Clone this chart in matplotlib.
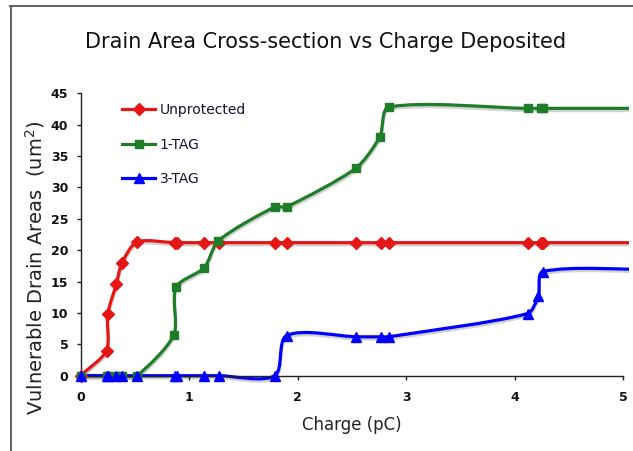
import matplotlib
matplotlib.use("Agg")
import matplotlib.pyplot as plt
import numpy as np
from matplotlib.path import Path
from matplotlib.patches import PathPatch, Rectangle
from matplotlib.lines import Line2D
import matplotlib.patheffects as pe

# ---- data ----
x_unprot = [0, 0.24, 0.25, 0.33, 0.38, 0.52, 0.87, 0.89, 1.14, 1.28, 1.79, 1.90, 2.54, 2.77, 2.84, 4.12, 4.24, 4.26, 5.3]
y_unprot = [0, 4.0, 9.8, 14.6, 17.9, 21.3, 21.2, 21.2, 21.2, 21.2, 21.2, 21.2, 21.2, 21.2, 21.2, 21.2, 21.2, 21.2, 21.2]

x_1tag = [0, 0.24, 0.25, 0.33, 0.38, 0.52, 0.86, 0.88, 1.14, 1.27, 1.79, 1.90, 2.54, 2.76, 2.84, 4.12, 4.24, 4.26, 5.3]
y_1tag = [0, 0, 0, 0, 0, 0, 6.5, 14.1, 17.2, 21.5, 26.9, 26.9, 33.1, 38.1, 42.8, 42.6, 42.6, 42.6, 42.6]

x_3tag = [0, 0.24, 0.25, 0.33, 0.38, 0.52, 0.87, 0.89, 1.14, 1.28, 1.79, 1.90, 2.54, 2.77, 2.84, 4.12, 4.22, 4.26, 5.3]
y_3tag = [0, 0, 0, 0, 0, 0, 0, 0, 0, 0, 0, 6.4, 6.2, 6.2, 6.2, 9.9, 12.7, 16.6, 16.9]

series_names = ["Unprotected", "1-TAG", "3-TAG"]
x_ticks = [0, 1, 2, 3, 4, 5]
y_ticks = [0, 5, 10, 15, 20, 25, 30, 35, 40, 45]

colors = ["#e51616", "#1e7d28", "#0000ff"]
markers = ["D", "s", "^"]
msizes = [6.5, 6.3, 7.5]

W, H = 633, 451
fig = plt.figure(figsize=(W / 100, H / 100), dpi=100)
fig.patch.set_facecolor("white")

ax = fig.add_axes([80.5 / W, (H - 375.7) / H, (629 - 80.5) / W, (375.7 - 93.3) / H])
ax.set_facecolor("none")
ax.set_xlim(0, 5.055)
ax.set_ylim(0, 45)

clip_rect = Rectangle((0, -0.03), 1, 1.1, transform=ax.transAxes, facecolor="none", edgecolor="none")
ax.add_artist(clip_rect)
clip_rect.set_visible(False)


def smooth_path(xs, ys, tension=0.25):
    # smoothed line (like a spreadsheet "smoothed line"): cubic Bezier segments
    # whose tangents are computed in display space and scaled by chord length
    pts = ax.transData.transform(np.column_stack([xs, ys]))
    n = len(pts)
    tang = []
    for i in range(n):
        a = pts[max(i - 1, 0)]
        b = pts[min(i + 1, n - 1)]
        d = b - a
        L = np.hypot(*d)
        tang.append(d / L if L > 0 else np.zeros(2))
    verts = [pts[0]]
    codes = [Path.MOVETO]
    for i in range(n - 1):
        p1, p2 = pts[i], pts[i + 1]
        chord = np.hypot(*(p2 - p1))
        c1 = p1 + tang[i] * chord * tension
        c2 = p2 - tang[i + 1] * chord * tension
        verts += [c1, c2, p2]
        codes += [Path.CURVE4] * 3
    verts = ax.transData.inverted().transform(np.array(verts))
    return Path(verts, codes)


all_x = [x_unprot, x_1tag, x_3tag]
all_y = [y_unprot, y_1tag, y_3tag]
lw = 2.3
handles = []
for xs, ys, c, m, ms, name in zip(all_x, all_y, colors, markers, msizes, series_names):
    patch = PathPatch(smooth_path(xs, ys), facecolor="none", edgecolor=c, lw=lw,
                      capstyle="round", joinstyle="round")
    patch.set_path_effects([pe.Stroke(offset=(0.3, -1.6), linewidth=lw, foreground="#999999", alpha=0.45),
                            pe.Normal()])
    ax.add_patch(patch)
    patch.set_clip_path(clip_rect)
    ax.plot(xs, ys, linestyle="none", marker=m, ms=ms, color=c, mec=c, clip_on=False, zorder=3)
    handles.append(Line2D([], [], color=c, lw=lw, marker=m, ms=ms, mec=c))

# axes styling
for s in ["top", "right"]:
    ax.spines[s].set_visible(False)
for s in ["left", "bottom"]:
    ax.spines[s].set_color("#222222")
    ax.spines[s].set_linewidth(1.0)
ax.spines["bottom"].set_bounds(0, 5)
ax.set_xticks(x_ticks)
ax.set_yticks(y_ticks)
ax.tick_params(axis="both", direction="out", length=3.2, width=1.0, color="#222222",
               labelsize=9, labelcolor="#111111")
ax.tick_params(axis="x", pad=8)
ax.tick_params(axis="y", pad=5.5)
for lab in ax.get_xticklabels() + ax.get_yticklabels():
    lab.set_fontweight("bold")

leg = ax.legend(handles, series_names, loc="upper left",
                bbox_to_anchor=(122 / W, 1 - 103 / H), bbox_transform=fig.transFigure,
                frameon=False, fontsize=10, handlelength=2.4, handletextpad=0.3,
                labelspacing=1.48, borderpad=0, borderaxespad=0)
for t in leg.get_texts():
    t.set_color("#111133")

# texts
fig.text(326 / W, 1 - 48.3 / H, "Drain Area Cross-section vs Charge Deposited",
         ha="center", va="baseline", fontsize=15, color="#111111")
fig.text(35 / W, 1 - 267.5 / H, "Vulnerable Drain Areas  (um$^2$)", rotation=90,
         ha="center", va="center", fontsize=14, color="#222222")
fig.text(351.7 / W, 1 - 425 / H, "Charge (pC)", ha="center", va="center",
         fontsize=12, color="#222222")

# outer frame (top and left edges visible)
fig.add_artist(Line2D([10.5 / W, 10.5 / W], [0, 1 - 6 / H], transform=fig.transFigure,
                      color="#555555", lw=1.3))
fig.add_artist(Line2D([10 / W, 1.0], [1 - 6 / H, 1 - 6 / H], transform=fig.transFigure,
                      color="#555555", lw=1.3))

fig.savefig("out.png", dpi=100)
